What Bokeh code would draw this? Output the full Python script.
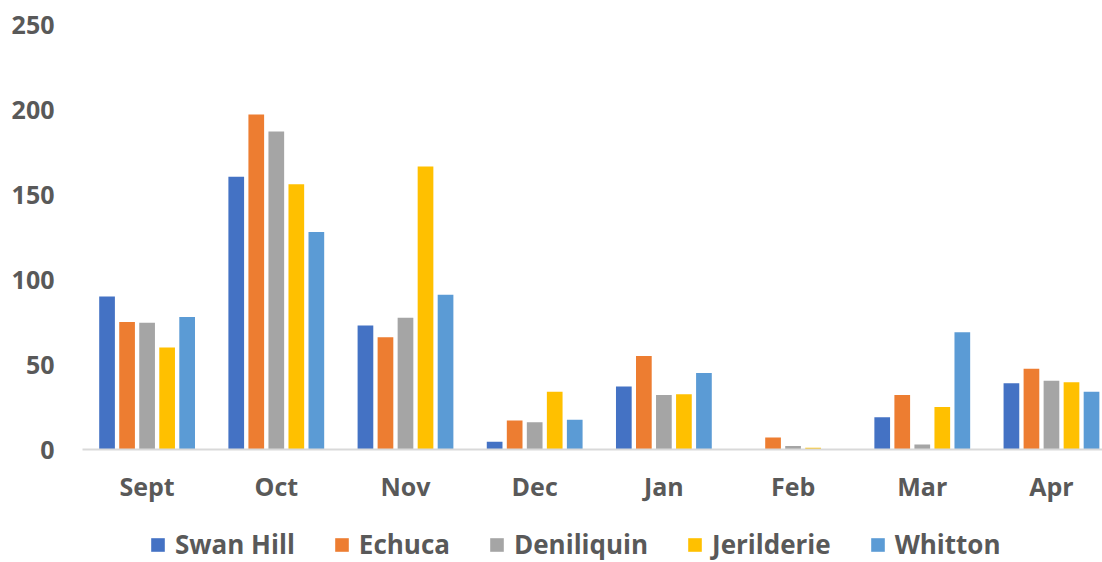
from bokeh.plotting import figure
from bokeh.layouts import column
from bokeh.models import Range1d, FixedTicker, Legend, LegendItem, ColumnDataSource
from bokeh.embed import file_html
from bokeh.resources import INLINE

# Monthly totals per station
months = ["Sept", "Oct", "Nov", "Dec", "Jan", "Feb", "Mar", "Apr"]
stations = ["Swan Hill", "Echuca", "Deniliquin", "Jerilderie", "Whitton"]
swan_hill = [90, 160.5, 73, 4.5, 37, 0, 19, 39]
echuca = [75, 197, 66, 17, 55, 7, 32, 47.5]
deniliquin = [74.5, 187, 77.5, 16, 32, 2, 3, 40.5]
jerilderie = [60, 156, 166.5, 34, 32.5, 1, 25, 39.5]
whitton = [78, 128, 91, 17.5, 45, 0, 69, 34]
y_ticks = [0, 50, 100, 150, 200, 250]

series = [swan_hill, echuca, deniliquin, jerilderie, whitton]
colors = ["#4472C4", "#ED7D31", "#A5A5A5", "#FFC000", "#5B9BD5"]

FONT = "Open Sans"
TEXT = "#595959"
FS = "25px"

p = figure(width=1102, height=520, output_backend="svg", toolbar_location=None,
           x_range=Range1d(0, 7.895), y_range=Range1d(0, 250),
           min_border_left=82, min_border_right=0, min_border_top=24,
           min_border_bottom=71)
p.outline_line_color = None
p.xgrid.grid_line_color = None
p.ygrid.grid_line_color = None

pitch = 0.155
bar_w = 0.1215
centers = [i + 0.5 for i in range(len(months))]
for k, (vals, col) in enumerate(zip(series, colors)):
    off = (k - 2) * pitch
    src = ColumnDataSource(dict(x=[c + off for c in centers], top=vals))
    p.vbar(x="x", top="top", width=bar_w, source=src, fill_color=col, line_color=None)

# x axis: month labels at group centres, light baseline
xa = p.xaxis[0]
xa.ticker = FixedTicker(ticks=centers)
xa.major_label_overrides = {c: m for c, m in zip(centers, months)}
xa.axis_line_color = "#D9D9D9"
xa.axis_line_width = 2
xa.major_tick_line_color = None
xa.minor_tick_line_color = None
xa.major_label_standoff = 13
xa.major_label_text_font = FONT
xa.major_label_text_font_style = "bold"
xa.major_label_text_font_size = FS
xa.major_label_text_color = TEXT

ya = p.yaxis[0]
ya.ticker = FixedTicker(ticks=y_ticks)
ya.axis_line_color = None
ya.major_tick_line_color = None
ya.minor_tick_line_color = None
ya.major_label_standoff = 22
ya.major_label_text_font = FONT
ya.major_label_text_font_style = "bold"
ya.major_label_text_font_size = FS
ya.major_label_text_color = TEXT

# legend strip under the chart; the swatch renderers have zero height,
# so only their legend keys are drawn
lg = figure(width=1102, height=42, output_backend="svg", toolbar_location=None,
            x_range=Range1d(0, 1), y_range=Range1d(0, 1),
            min_border=0, x_axis_type=None, y_axis_type=None)
lg.outline_line_color = None
lg.xgrid.grid_line_color = None
lg.ygrid.grid_line_color = None
items = []
for name, col in zip(stations, colors):
    r = lg.vbar(x=[0.5], top=[0], bottom=[0], width=0.01, fill_color=col, line_color=None)
    items.append(LegendItem(label=name, renderers=[r]))
legend = Legend(items=items, orientation="horizontal", location=(67, 0),
                label_text_font=FONT, label_text_font_style="bold",
                label_text_font_size="26px", label_text_color=TEXT,
                label_text_line_height=0.75,
                glyph_width=17, glyph_height=17, label_standoff=9,
                spacing=38, padding=0, margin=0,
                border_line_color=None, background_fill_alpha=0)
lg.add_layout(legend)

layout = column(p, lg, spacing=0)

with open("out.html", "w") as f:
    f.write(file_html(layout, INLINE))
